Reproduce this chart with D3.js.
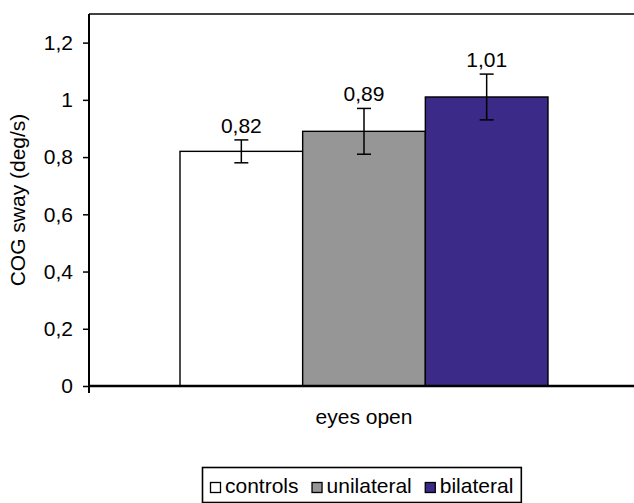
<!DOCTYPE html>
<html>
<head>
<meta charset="utf-8">
<script src="https://cdn.jsdelivr.net/npm/d3@7"></script>
<style>
  html, body { margin: 0; padding: 0; background: #fff; }
  svg { display: block; }
  text { font-family: "Liberation Sans", Arial, sans-serif; fill: #000; }
</style>
</head>
<body>
<svg id="chart" width="634" height="503"></svg>
<script>
// Mean COG sway per group, with error-bar half-widths
const categories = ["eyes open"];
const groups = ["controls", "unilateral", "bilateral"];
const means = [0.82, 0.89, 1.01];
const errors = [0.04, 0.08, 0.08];
const colors = ["#ffffff", "#969696", "#3b2a87"];
const yTicks = [0, 0.2, 0.4, 0.6, 0.8, 1, 1.2];
const yTitle = "COG sway (deg/s)";

const fmt = v => String(v).replace(".", ",");

const svg = d3.select("#chart");
const W = 634, H = 503;
const plot = { left: 89, top: 14, right: 639, bottom: 386 };

const y = d3.scaleLinear().domain([0, 1.3]).range([plot.bottom, plot.top]);
const x0 = d3.scaleBand().domain(categories).range([plot.left, plot.right])
  .paddingInner(0).paddingOuter(0.2473);
const x1 = d3.scaleBand().domain(groups).range([0, x0.bandwidth()]).padding(0);

const data = groups.map((g, i) => ({ g, v: means[i], e: errors[i], c: colors[i] }));

// Plot-area frame: top border
svg.append("line")
  .attr("x1", plot.left).attr("x2", W)
  .attr("y1", plot.top).attr("y2", plot.top)
  .attr("stroke", "#000").attr("stroke-width", 1.6);

// Bars
const cat = svg.append("g").attr("transform", `translate(${x0(categories[0])},0)`);
cat.selectAll("rect.bar").data(data).join("rect")
  .attr("class", "bar")
  .attr("x", d => x1(d.g))
  .attr("width", x1.bandwidth())
  .attr("y", d => y(d.v))
  .attr("height", d => y(0) - y(d.v))
  .attr("fill", d => d.c)
  .attr("stroke", "#000").attr("stroke-width", 1.4);

// Error bars
const cap = 7;
const eb = cat.selectAll("g.err").data(data).join("g")
  .attr("class", "err")
  .attr("transform", d => `translate(${x1(d.g) + x1.bandwidth() / 2},0)`);
eb.append("line").attr("x1", 0).attr("x2", 0)
  .attr("y1", d => y(d.v + d.e)).attr("y2", d => y(d.v - d.e))
  .attr("stroke", "#000").attr("stroke-width", 1.5);
eb.append("line").attr("x1", -cap).attr("x2", cap)
  .attr("y1", d => y(d.v + d.e)).attr("y2", d => y(d.v + d.e))
  .attr("stroke", "#000").attr("stroke-width", 1.5);
eb.append("line").attr("x1", -cap).attr("x2", cap)
  .attr("y1", d => y(d.v - d.e)).attr("y2", d => y(d.v - d.e))
  .attr("stroke", "#000").attr("stroke-width", 1.5);

// Value labels
eb.append("text")
  .attr("x", 0).attr("y", d => y(d.v + d.e) - 7)
  .attr("text-anchor", "middle")
  .style("font-size", "21px")
  .text(d => fmt(d.v));

// Y axis
const yAxis = d3.axisLeft(y).tickValues(yTicks).tickSize(6).tickPadding(10)
  .tickFormat(fmt);
const gy = svg.append("g").attr("transform", `translate(${plot.left},0)`).call(yAxis);
gy.select(".domain").attr("stroke", "#000").attr("stroke-width", 2)
  .attr("d", `M0,${plot.top}V${plot.bottom + 7}`);
gy.selectAll(".tick line").attr("stroke", "#000").attr("stroke-width", 1.5);
gy.selectAll(".tick text").style("font-size", "21px")
  .attr("font-family", null).attr("fill", "#000");

// X axis
const xAxis = d3.axisBottom(x0).tickSize(0).tickFormat(() => "");
const gx = svg.append("g").attr("transform", `translate(0,${plot.bottom})`).call(xAxis);
gx.select(".domain").attr("stroke", "#000").attr("stroke-width", 2.4)
  .attr("d", `M${plot.left},0H${W}`);

// Category label
svg.append("text")
  .attr("x", x0(categories[0]) + x0.bandwidth() / 2)
  .attr("y", 424)
  .attr("text-anchor", "middle")
  .style("font-size", "21px")
  .text(categories[0]);

// Y title
svg.append("text")
  .attr("transform", `translate(25,${(plot.top + plot.bottom) / 2}) rotate(-90)`)
  .attr("text-anchor", "middle")
  .style("font-size", "21px")
  .text(yTitle);

// Legend
const lg = svg.append("g");
const box = lg.append("rect")
  .attr("fill", "#fff").attr("stroke", "#000").attr("stroke-width", 1.6);
let lx = 210;
const baseline = 493;
data.forEach((d, i) => {
  lg.append("rect")
    .attr("x", lx + 0.5).attr("y", baseline - 10.5)
    .attr("width", 10).attr("height", 10)
    .attr("fill", d.c).attr("stroke", "#000").attr("stroke-width", 1.3);
  const t = lg.append("text")
    .attr("x", lx + 15).attr("y", baseline)
    .style("font-size", "21px")
    .text(d.g);
  const len = t.node().getComputedTextLength();
  lx = lx + 15 + len + (i < data.length - 1 ? 13 : 0);
});
box.attr("x", 202.5).attr("y", 467.5)
  .attr("width", lx + 8 - 202.5).attr("height", 35);
</script>
</body>
</html>
